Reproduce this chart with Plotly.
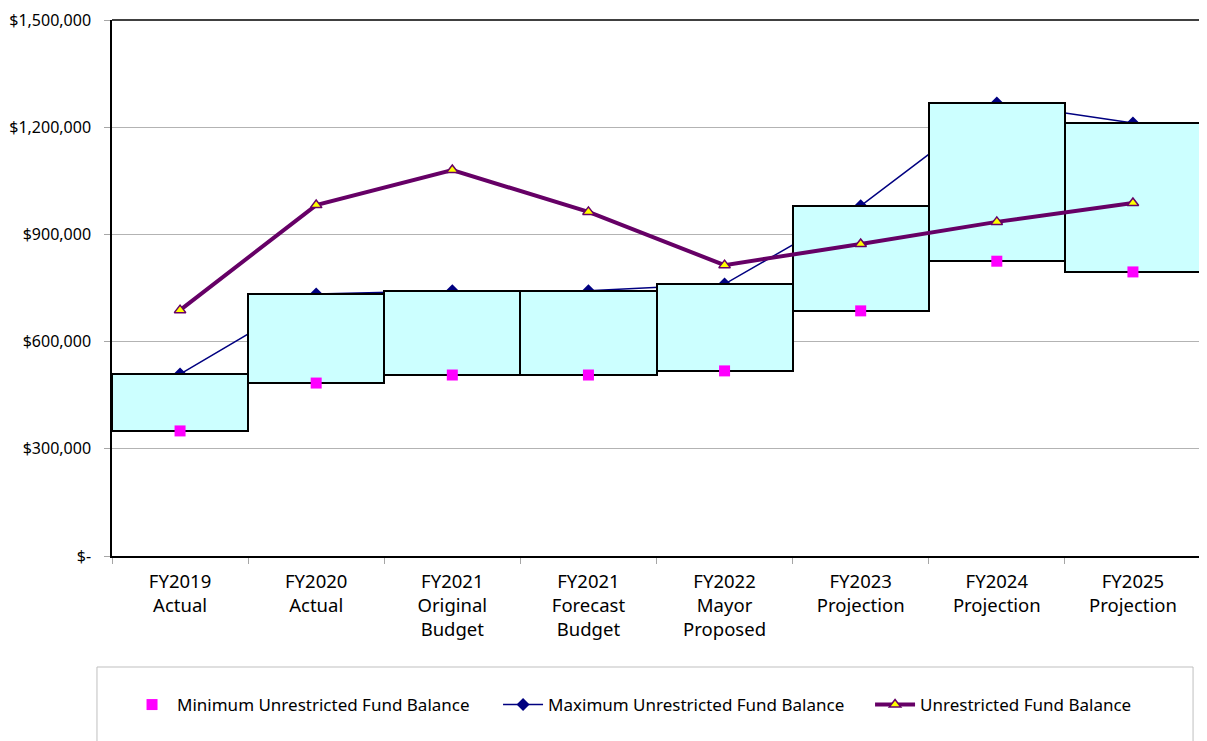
import plotly.graph_objects as go

categories = ["FY2019<br>Actual", "FY2020<br>Actual", "FY2021<br>Original<br>Budget",
              "FY2021<br>Forecast<br>Budget", "FY2022<br>Mayor<br>Proposed",
              "FY2023<br>Projection", "FY2024<br>Projection", "FY2025<br>Projection"]
min_balance = [350000, 484000, 506500, 506500, 518000, 686000, 825000, 795000]
max_balance = [509000, 733000, 742000, 742000, 761000, 980000, 1268000, 1212000]
unrestricted = [688000, 982000, 1080000, 963000, 814000, 873000, 935000, 988000]
tick_vals = [0, 300000, 600000, 900000, 1200000, 1500000]
tick_text = ["$-", "$300,000", "$600,000", "$900,000", "$1,200,000", "$1,500,000"]

FONT = "Noto Sans"
fig = go.Figure()

# Max line (behind boxes)
fig.add_trace(go.Scatter(
    x=categories, y=max_balance, mode="lines+markers",
    name="Maximum Unrestricted Fund Balance",
    line=dict(color="#000080", width=1.5),
    marker=dict(symbol="diamond", size=10, color="#000080"),
    xaxis="x", yaxis="y", legend="legend2"))

# Boxes min->max
fig.add_trace(go.Bar(
    x=categories, y=[mx - mn for mx, mn in zip(max_balance, min_balance)],
    base=min_balance, width=1,
    marker=dict(color="#CCFFFF", line=dict(color="black", width=2)),
    showlegend=False, hoverinfo="skip", xaxis="x", yaxis="y2"))

fig.add_trace(go.Scatter(
    x=categories, y=min_balance, mode="markers",
    name="Minimum Unrestricted Fund Balance",
    marker=dict(symbol="square", size=11, color="#FF00FF"),
    xaxis="x", yaxis="y2", legend="legend"))

fig.add_trace(go.Scatter(
    x=categories, y=unrestricted, mode="lines+markers",
    name="Unrestricted Fund Balance",
    line=dict(color="#660066", width=4),
    marker=dict(symbol="triangle-up", size=10, color="#FFFF00",
                line=dict(color="#660066", width=1.5)),
    xaxis="x", yaxis="y2", legend="legend3"))

yr = [0, 1500000]
leg_common = dict(orientation="h", xanchor="left", y=-0.278, yanchor="middle",
                  font=dict(family=FONT, size=17), bgcolor="rgba(0,0,0,0)",
                  itemwidth=40)
fig.update_layout(
    width=1207, height=741,
    margin=dict(l=104, r=14, t=12, b=193),
    paper_bgcolor="white", plot_bgcolor="white",
    font=dict(family=FONT, size=16, color="black"),
    bargap=0,
    xaxis=dict(type="category", range=[-0.5, 7.5], showline=True, linecolor="black",
               linewidth=1.5, mirror=False, ticks="outside", tickson="boundaries",
               ticklen=6, tickcolor="#A6A6A6", showgrid=False, automargin=False,
               ticklabelstandoff=8,
               tickfont=dict(family=FONT, size=18.5)),
    yaxis=dict(range=yr, tickvals=tick_vals, ticktext=tick_text, showline=True,
               linecolor="black", linewidth=1.5, ticks="outside", ticklen=6,
               tickcolor="#A6A6A6", showgrid=True, gridcolor="#B3B3B3", gridwidth=1,
               zeroline=False, ticklabelstandoff=10, automargin=False,
               ticklabeloverflow="allow",
               tickfont=dict(family=FONT, size=16)),
    yaxis2=dict(range=yr, overlaying="y", visible=False, showgrid=False, zeroline=False),
    showlegend=True,
    legend=dict(x=0.0138, **leg_common),
    legend2=dict(x=0.3545, **leg_common),
    legend3=dict(x=0.6961, **leg_common),
    shapes=[
        dict(type="line", xref="paper", yref="paper", x0=0, x1=1, y0=1, y1=1,
             line=dict(color="black", width=1.5)),
        dict(type="line", xref="paper", yref="paper", x0=1, x1=1, y0=0, y1=1,
             line=dict(color="#BFBFBF", width=1)),
        dict(type="rect", xref="paper", yref="paper", x0=-0.0138, x1=0.9927,
             y0=-0.2071, y1=-0.40, line=dict(color="#BFBFBF", width=1),
             fillcolor="rgba(0,0,0,0)"),
    ],
)

fig.write_html("out.html")
